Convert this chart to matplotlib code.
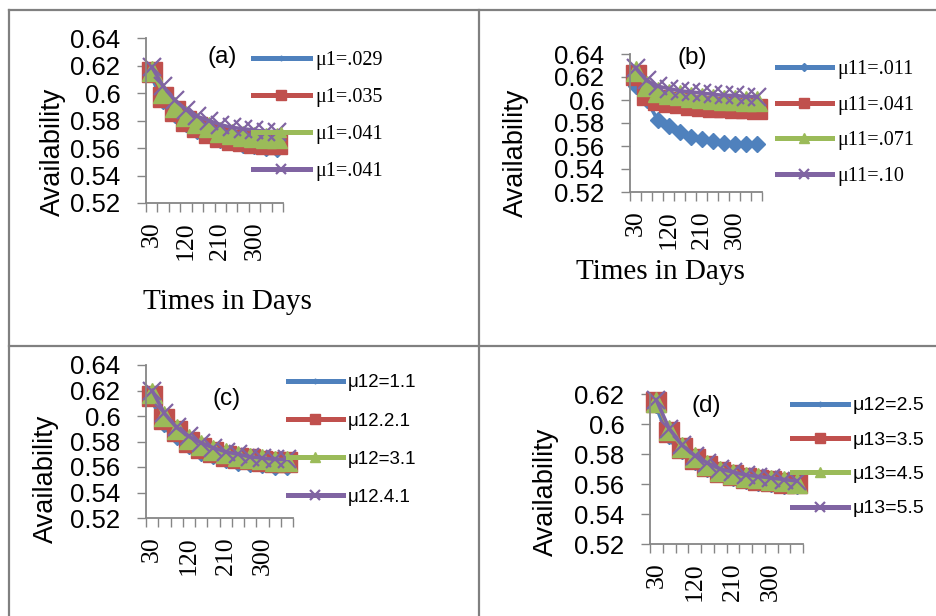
import numpy as np
import matplotlib
matplotlib.use("Agg")
import matplotlib.pyplot as plt
from matplotlib.lines import Line2D

# --- data ---
days = [30, 60, 90, 120, 150, 180, 210, 240, 270, 300, 330, 360]

a_labels = ["μ1=.029", "μ1=.035", "μ1=.041", "μ1=.041"]
a_blue = [0.612, 0.592, 0.582, 0.575, 0.570, 0.567, 0.564, 0.562, 0.560, 0.559, 0.558, 0.557]
a_red = [0.615, 0.597, 0.587, 0.580, 0.575, 0.571, 0.568, 0.566, 0.565, 0.564, 0.563, 0.563]
a_green = [0.616, 0.600, 0.590, 0.583, 0.578, 0.575, 0.572, 0.570, 0.569, 0.568, 0.567, 0.567]
a_purple = [0.619, 0.605, 0.595, 0.588, 0.583, 0.580, 0.577, 0.575, 0.574, 0.573, 0.572, 0.572]

b_labels = ["μ11=.011", "μ11=.041", "μ11=.071", "μ11=.10"]
b_blue = [0.612, 0.600, 0.583, 0.577, 0.572, 0.568, 0.566, 0.564, 0.563, 0.562, 0.562, 0.562]
b_red = [0.622, 0.604, 0.600, 0.598, 0.597, 0.596, 0.595, 0.594, 0.594, 0.593, 0.593, 0.592]
b_green = [0.625, 0.612, 0.607, 0.605, 0.604, 0.603, 0.602, 0.601, 0.600, 0.600, 0.599, 0.599]
b_purple = [0.628, 0.617, 0.612, 0.610, 0.608, 0.607, 0.606, 0.605, 0.604, 0.604, 0.603, 0.603]

c_labels = ["μ12=1.1", "μ12.2.1", "μ12=3.1", "μ12.4.1"]
c_blue = [0.612, 0.591, 0.581, 0.574, 0.569, 0.566, 0.563, 0.561, 0.560, 0.559, 0.558, 0.558]
c_red = [0.616, 0.598, 0.588, 0.580, 0.575, 0.572, 0.569, 0.567, 0.566, 0.565, 0.564, 0.564]
c_green = [0.618, 0.600, 0.590, 0.582, 0.577, 0.573, 0.571, 0.569, 0.567, 0.566, 0.565, 0.565]
c_purple = [0.620, 0.602, 0.591, 0.584, 0.579, 0.575, 0.572, 0.570, 0.568, 0.567, 0.566, 0.566]

d_labels = ["μ12=2.5", "μ13=3.5", "μ13=4.5", "μ13=5.5"]
d_blue = [0.611, 0.590, 0.580, 0.573, 0.568, 0.565, 0.562, 0.560, 0.559, 0.558, 0.557, 0.557]
d_red = [0.615, 0.595, 0.584, 0.577, 0.572, 0.568, 0.566, 0.564, 0.563, 0.562, 0.561, 0.561]
d_green = [0.615, 0.596, 0.585, 0.578, 0.573, 0.569, 0.567, 0.565, 0.564, 0.563, 0.562, 0.561]
d_purple = [0.616, 0.597, 0.586, 0.579, 0.574, 0.570, 0.568, 0.566, 0.565, 0.564, 0.563, 0.562]

# excel 2007 palette
colors = ["#4F81BD", "#C0504D", "#9BBB59", "#8064A2"]
markers = ["D", "s", "^", "x"]
AXIS_GRAY = "#868686"
SANS = "Liberation Sans"
SERIF = "Liberation Serif"

W, H = 936, 616
fig = plt.figure(figsize=(W / 100, H / 100), dpi=100)


def fx(x):
    return x / W


def fy(y):
    return 1 - y / H


def draw_panel(box, series, labels, title, title_xy, ytop, leg, ylab_xy, xlab_xy,
               diamond_ms, leg_font, leg_fs):
    left, top, right, bottom = box
    ax = fig.add_axes([fx(left), fy(bottom), (right - left) / W, (bottom - top) / H])
    x = np.arange(len(days))

    for vals, c, m, ms in zip(series, colors, markers, [diamond_ms, 14.5, 14, 13]):
        ax.plot(x, vals, color=c, lw=2.6, marker=m, ms=ms, mfc=c, mec=c,
                mew=1.6 if m == "x" else 1, clip_on=False)

    ax.set_xlim(-0.5, len(days) - 0.5)
    ax.set_ylim(0.52, ytop)

    # category boundary ticks, labels every third category
    ax.set_xticks(np.arange(-0.5, len(days), 1))
    ax.set_xticklabels([])
    ax.set_xticks(x[::3], minor=True)
    ax.set_xticklabels([str(d) for d in days[::3]], minor=True, rotation=90,
                       fontfamily=SERIF, fontsize=18.5)
    ax.tick_params(axis="x", which="major", direction="out", length=6.5,
                   width=1, color=AXIS_GRAY)
    ax.tick_params(axis="x", which="minor", length=0, pad=13)

    yt = np.arange(0.52, ytop + 0.001, 0.02)
    ax.set_yticks(yt)
    ax.set_yticklabels([f"{v:.2f}".rstrip("0") for v in yt], fontfamily=SANS,
                       fontsize=18.5)
    ax.tick_params(axis="y", direction="out", length=6.5, width=1,
                   color=AXIS_GRAY, pad=12)

    for s in ["top", "right"]:
        ax.spines[s].set_visible(False)
    for s in ["left", "bottom"]:
        ax.spines[s].set_color(AXIS_GRAY)
        ax.spines[s].set_linewidth(1.3)

    fig.text(fx(title_xy[0]), fy(title_xy[1]), title, family=SANS, fontsize=17.5,
             ha="center", va="center")
    fig.text(fx(ylab_xy[0]), fy(ylab_xy[1]), "Availability", family=SANS,
             fontsize=19.5, rotation=90, ha="center", va="center")
    if xlab_xy is not None:
        fig.text(fx(xlab_xy[0]), fy(xlab_xy[1]), "Times in Days", family=SERIF,
                 fontsize=21, ha="center", va="baseline")

    lx, ly, spacing, hlen = leg
    lg = ax.legend(labels, loc="center left", bbox_to_anchor=(fx(lx), fy(ly)),
                   bbox_transform=fig.transFigure, frameon=False, borderpad=0,
                   borderaxespad=0, labelspacing=spacing, handlelength=hlen,
                   handletextpad=0.25, markerscale=0.5,
                   prop={"family": leg_font, "size": leg_fs})
    for ln in lg.get_lines():
        ln.set_linewidth(3.6)
    return ax


draw_panel((146, 38, 283, 203), [a_blue, a_red, a_green, a_purple], a_labels,
           "(a)", (222, 57), 0.64, (253, 116, 0.88, 2.83), (53, 152), (227, 309),
           5, SERIF, 14.5)
draw_panel((630, 54, 762, 192), [b_blue, b_red, b_green, b_purple], b_labels,
           "(b)", (692, 58), 0.64, (777, 123, 0.83, 2.73), (516, 153), (660, 279),
           8, SERIF, 14.5)
draw_panel((146, 365, 293, 518), [c_blue, c_red, c_green, c_purple], c_labels,
           "(c)", (227, 399), 0.64, (288, 440, 1.12, 2.93), (46, 479), (197, 638),
           5, SANS, 13.5)
draw_panel((650, 394, 803, 544), [d_blue, d_red, d_green, d_purple], d_labels,
           "(d)", (706, 406), 0.62, (792, 457, 0.86, 2.89), (546, 492), None,
           5, SANS, 14)

# gray frame lines between the four charts
frame = dict(color="#808080", lw=1.6, transform=fig.transFigure)
fig.add_artist(Line2D([fx(9), fx(W)], [fy(10), fy(10)], **frame))
fig.add_artist(Line2D([fx(9), fx(W)], [fy(346), fy(346)], **frame))
fig.add_artist(Line2D([fx(9), fx(9)], [fy(10), fy(H)], **frame))
fig.add_artist(Line2D([fx(479.5), fx(479.5)], [fy(10), fy(H)], **frame))

fig.savefig("out.png", dpi=100)
plt.close(fig)
